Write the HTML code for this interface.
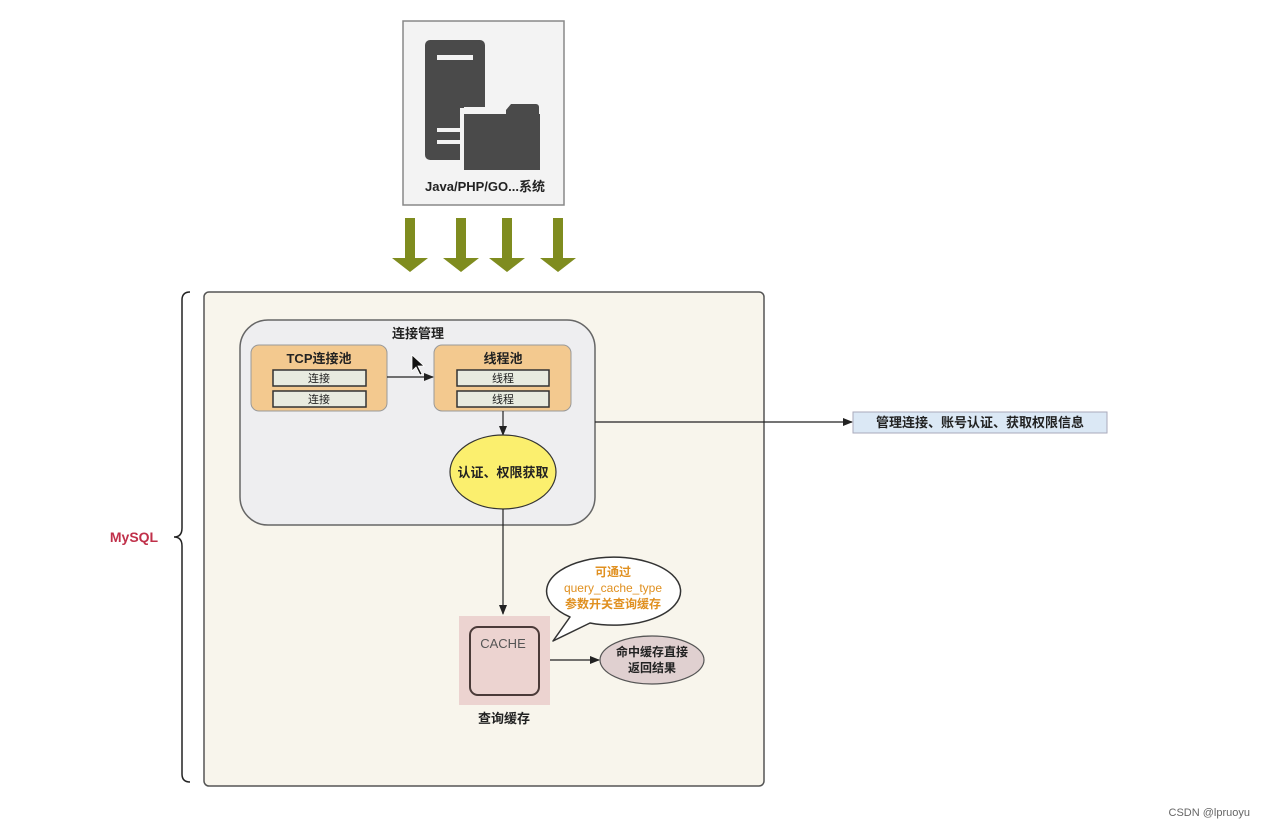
<!DOCTYPE html>
<html><head><meta charset="utf-8"><style>
html,body{margin:0;padding:0;background:#fff;}
svg text{font-family:"Liberation Sans","Noto Sans CJK SC",sans-serif;}
</style></head><body>
<svg width="1267" height="828" viewBox="0 0 1267 828" xmlns="http://www.w3.org/2000/svg">
<defs>
<marker id="ah" markerWidth="10" markerHeight="10" refX="9" refY="5" orient="auto" markerUnits="userSpaceOnUse">
<path d="M0,1 L10,5 L0,9 Z" fill="#222"/></marker>
</defs>
<rect width="1267" height="828" fill="#fff"/>
<!-- top system box -->
<rect x="403" y="21" width="161" height="184" fill="#f3f3f3" stroke="#888" stroke-width="1.5"/>
<rect x="425" y="40" width="60" height="120" rx="5" fill="#4a4a4a"/>
<rect x="437" y="55" width="36" height="5" fill="#f3f3f3"/>
<rect x="437" y="128" width="24" height="4" fill="#f3f3f3"/>
<rect x="437" y="140" width="24" height="4" fill="#f3f3f3"/>
<path d="M460,108 h4 v-1 h40 l4,-5 h28 a3,3 0 0 1 3,3 v67 h-79 Z" fill="#f3f3f3"/>
<path d="M464,114 h76 v56 h-76 Z" fill="#4a4a4a"/>
<path d="M506,110 l5,-6 h25 a3,3 0 0 1 3,3 v7 h-33 Z" fill="#4a4a4a"/>
<text x="485" y="191" font-size="13" font-weight="bold" text-anchor="middle" fill="#222">Java/PHP/GO...系统</text>
<!-- green arrows -->
<g fill="#7f8c1f">
<path d="M405,218 h10 v40 h13 l-18,14 l-18,-14 h13 Z"/>
<path d="M456,218 h10 v40 h13 l-18,14 l-18,-14 h13 Z"/>
<path d="M502,218 h10 v40 h13 l-18,14 l-18,-14 h13 Z"/>
<path d="M553,218 h10 v40 h13 l-18,14 l-18,-14 h13 Z"/>
</g>
<!-- brace & MySQL -->
<path d="M190,292 q-8,0 -8,8 v228 q0,9 -8,9 q8,0 8,9 v228 q0,8 8,8" fill="none" stroke="#222" stroke-width="1.5"/>
<text x="134" y="542" font-size="14" font-weight="bold" text-anchor="middle" fill="#c0304a">MySQL</text>
<!-- main box -->
<rect x="204" y="292" width="560" height="494" rx="5" fill="#f8f5ec" stroke="#555" stroke-width="1.5"/>
<!-- connection mgmt -->
<rect x="240" y="320" width="355" height="205" rx="28" fill="#eeeef0" stroke="#666" stroke-width="1.5"/>
<text x="418" y="338" font-size="13" font-weight="bold" text-anchor="middle" fill="#222">连接管理</text>
<rect x="251" y="345" width="136" height="66" rx="8" fill="#f3c98f" stroke="#999"/>
<text x="319" y="363" font-size="13" font-weight="bold" text-anchor="middle" fill="#222">TCP连接池</text>
<rect x="273" y="370" width="93" height="16" fill="#e8ebe0" stroke="#333" stroke-width="1.5"/>
<text x="319" y="382" font-size="11" text-anchor="middle" fill="#222">连接</text>
<rect x="273" y="391" width="93" height="16" fill="#e8ebe0" stroke="#333" stroke-width="1.5"/>
<text x="319" y="403" font-size="11" text-anchor="middle" fill="#222">连接</text>
<rect x="434" y="345" width="137" height="66" rx="8" fill="#f3c98f" stroke="#999"/>
<text x="503" y="363" font-size="13" font-weight="bold" text-anchor="middle" fill="#222">线程池</text>
<rect x="457" y="370" width="92" height="16" fill="#e8ebe0" stroke="#333" stroke-width="1.5"/>
<text x="503" y="382" font-size="11" text-anchor="middle" fill="#222">线程</text>
<rect x="457" y="391" width="92" height="16" fill="#e8ebe0" stroke="#333" stroke-width="1.5"/>
<text x="503" y="403" font-size="11" text-anchor="middle" fill="#222">线程</text>
<line x1="387" y1="377" x2="433" y2="377" stroke="#222" stroke-width="1.2" marker-end="url(#ah)"/>
<path d="M412,355 l0,16 l4,-4 l4,8 l2,-1 l-4,-8 l6,0 Z" fill="#111" stroke="#fff" stroke-width="0.8"/>
<line x1="503" y1="411" x2="503" y2="435" stroke="#222" stroke-width="1.2" marker-end="url(#ah)"/>
<ellipse cx="503" cy="472" rx="53" ry="37" fill="#fbef6e" stroke="#333" stroke-width="1.2"/>
<text x="503" y="477" font-size="13" font-weight="bold" text-anchor="middle" fill="#222">认证、权限获取</text>
<line x1="503" y1="509" x2="503" y2="614" stroke="#222" stroke-width="1.2" marker-end="url(#ah)"/>
<line x1="595" y1="422" x2="852" y2="422" stroke="#222" stroke-width="1.2" marker-end="url(#ah)"/>
<rect x="853" y="412" width="254" height="21" fill="#dbe8f5" stroke="#aab"/>
<text x="980" y="427" font-size="13" font-weight="bold" text-anchor="middle" fill="#222">管理连接、账号认证、获取权限信息</text>
<!-- cache -->
<rect x="459" y="616" width="91" height="89" fill="#ecd3d0"/>
<rect x="470" y="627" width="69" height="68" rx="8" fill="#ecd3d0" stroke="#4a3a38" stroke-width="2"/>
<text x="503" y="648" font-size="13" text-anchor="middle" fill="#555">CACHE</text>
<text x="504" y="723" font-size="13" font-weight="bold" text-anchor="middle" fill="#222">查询缓存</text>
<line x1="550" y1="660" x2="599" y2="660" stroke="#222" stroke-width="1.2" marker-end="url(#ah)"/>
<ellipse cx="652" cy="660" rx="52" ry="24" fill="#e0d0d0" stroke="#555" stroke-width="1.2"/>
<text x="652" y="656" font-size="12" font-weight="bold" text-anchor="middle" fill="#222">命中缓存直接</text>
<text x="652" y="672" font-size="12" font-weight="bold" text-anchor="middle" fill="#222">返回结果</text>
<!-- bubble -->
<path d="M570,617 A67,34 0 1 1 590,623 L553,641 Z" fill="#fff" stroke="#333" stroke-width="1.5" stroke-linejoin="round"/>
<text x="613" y="576" font-size="12" font-weight="bold" text-anchor="middle" fill="#e09020">可通过</text>
<text x="613" y="592" font-size="12" text-anchor="middle" fill="#e09020">query_cache_type</text>
<text x="613" y="608" font-size="12" font-weight="bold" text-anchor="middle" fill="#e09020">参数开关查询缓存</text>
<text x="1250" y="816" font-size="11" text-anchor="end" fill="#666">CSDN @lpruoyu</text>
</svg>
</body></html>
